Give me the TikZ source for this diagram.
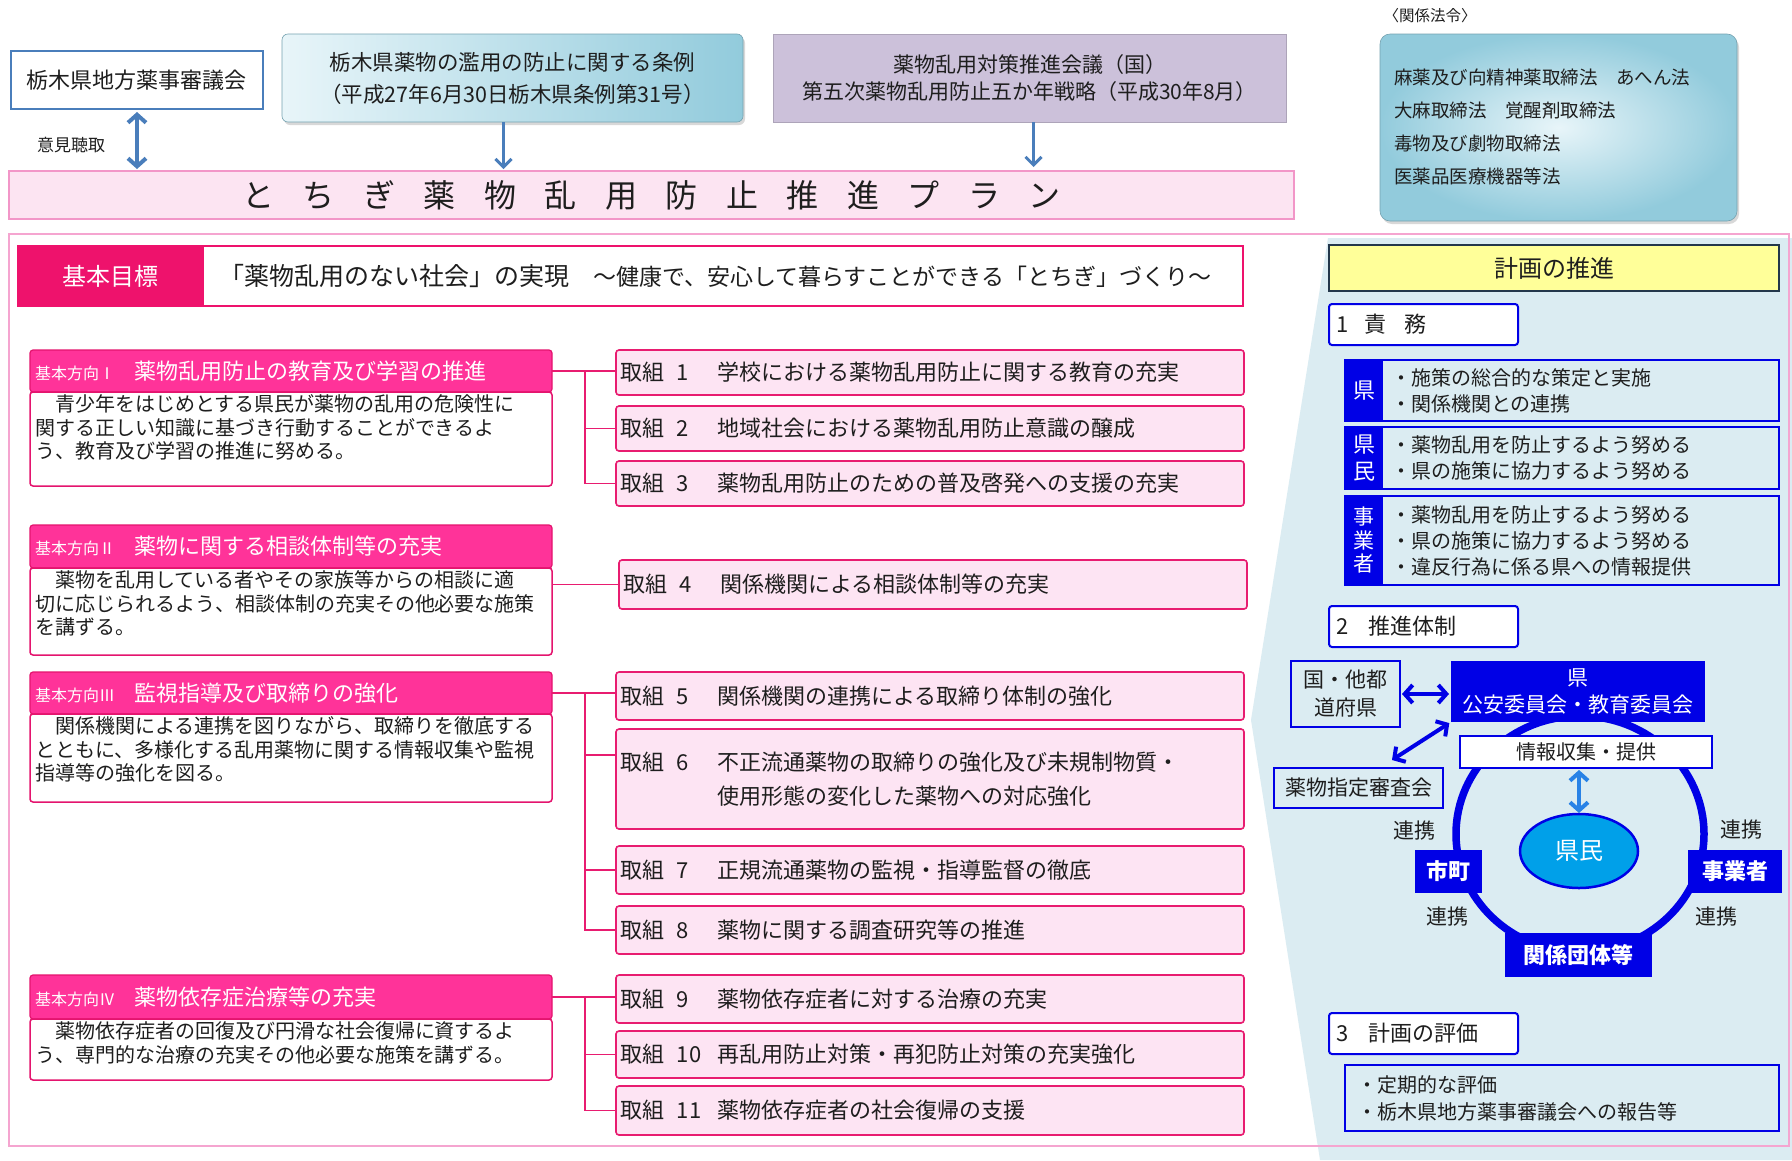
\documentclass[tikz,border=0pt]{standalone}
\usepackage{fontspec}
\setmainfont{Noto Sans CJK JP}
\usetikzlibrary{arrows.meta,shadows,shapes.geometric,calc}
\definecolor{arrblue}{RGB}{74,126,187}
\definecolor{ordL}{RGB}{232,245,249}
\definecolor{ordR}{RGB}{146,203,220}
\definecolor{purp}{RGB}{204,193,218}
\definecolor{planF}{RGB}{252,228,242}
\definecolor{planD}{RGB}{242,150,200}
\definecolor{frameC}{RGB}{245,165,208}
\definecolor{goalC}{RGB}{238,18,108}
\definecolor{hdrF}{RGB}{255,51,153}
\definecolor{hdrD}{RGB}{228,20,110}
\definecolor{tkF}{RGB}{253,228,243}
\definecolor{tkD}{RGB}{232,28,112}
\definecolor{bgB}{RGB}{219,236,242}
\definecolor{yel}{RGB}{255,255,153}
\definecolor{slate}{RGB}{35,55,75}
\definecolor{bl}{RGB}{0,0,230}
\definecolor{kenminC}{RGB}{0,160,233}
\definecolor{midarr}{RGB}{40,130,230}
\definecolor{txt}{RGB}{30,30,30}
\newcommand\fz[2]{\fontsize{#1}{#2}\selectfont}
\newcommand\kgap{\hspace{28.5pt}}
\newcommand\tkl[2]{\makebox[57pt][l]{取組}\makebox[40pt][l]{#1}#2}
\tikzset{
  smallbox/.style={draw=arrblue, line width=2.2pt, fill=white, anchor=north west},
  arrA/.style={draw=arrblue, line width=3pt, -{Straight Barb[length=8pt,width=16pt]}},
  dblA/.style={draw=arrblue, line width=4pt, {Straight Barb[length=8pt,width=18pt]}-{Straight Barb[length=8pt,width=18pt]}},
  blueA/.style={draw=bl, line width=4pt, {Straight Barb[length=8pt,width=18pt]}-{Straight Barb[length=8pt,width=18pt]}},
  midA/.style={draw=midarr, line width=4pt, {Straight Barb[length=8pt,width=18pt]}-{Straight Barb[length=8pt,width=18pt]}},
  hdr/.style={fill=hdrF, draw=hdrD, line width=1.2pt, rounded corners=3pt, anchor=north west, text width=512pt, inner xsep=5pt, align=left, text=white, font=\fz{22}{26}},
  desc/.style={fill=white, draw=hdrD, line width=1.5pt, rounded corners=3pt, anchor=north west, inner xsep=5pt, inner ysep=3pt},
  tk/.style={fill=tkF, draw=tkD, line width=1.6pt, rounded corners=3pt, anchor=north west, text width=620pt, inner xsep=4pt, align=left, font=\fz{22}{34}},
  conn/.style={draw=tkD, line width=1.6pt},
  numbox/.style={draw=bl, line width=2pt, fill=white, rounded corners=3pt, anchor=north west, minimum width=189pt, minimum height=41pt, text width=175pt, inner xsep=7pt, align=left, font=\fz{22}{26}},
  rowbox/.style={draw=bl, line width=2pt, fill=bgB, anchor=north west, minimum width=434pt},
  rowlab/.style={fill=bl, anchor=north west, minimum width=38pt, text=white, align=center},
  rowtxt/.style={anchor=west, align=left, font=\fz{20}{26}},
  bluebox/.style={fill=bl, anchor=north west, text=white},
  lbox/.style={draw=bl, line width=2pt, fill=bgB, anchor=north west},
  renk/.style={font=\fz{21}{24}}
}
\begin{document}
\begin{tikzpicture}[x=1pt,y=-1pt, every node/.style={inner sep=0pt, outer sep=0pt, text=txt}]
\useasboundingbox (0,0) rectangle (1792,1160);
\fill[white] (0,0) rectangle (1792,1160);
% background of right column
\fill[bgB] (1328,238) -- (1251,720) -- (1320,1160) -- (1792,1160) -- (1792,238) -- cycle;
\draw[frameC, line width=2.5pt] (9,234) rectangle (1789,1146);

% ---------- top row ----------
\node[smallbox, minimum width=252pt, minimum height=58pt, font=\fz{22}{26}] (shingi) at (11,51) {栃木県地方薬事審議会};
\node[font=\fz{17}{20}] (iken) at (71,145) {意見聴取};
\node[anchor=north west, minimum width=461pt, minimum height=88pt, rounded corners=6pt, left color=ordL, right color=ordR, draw=ordR!80!black, line width=0.6pt, align=center, font=\fz{21.5}{32}, drop shadow={shadow xshift=2pt, shadow yshift=-3pt, opacity=0.3}] (jorei) at (282,34) {栃木県薬物の濫用の防止に関する条例\\（平成27年6月30日栃木県条例第31号）};
\node[anchor=north west, minimum width=513pt, minimum height=88pt, fill=purp, draw=purp!85!black, line width=0.8pt, align=center, font=\fz{21}{27}] (senryaku) at (773,34) {薬物乱用対策推進会議（国）\\第五次薬物乱用防止五か年戦略（平成30年8月）};
\node[anchor=north west, minimum width=1285pt, minimum height=48pt, fill=planF, draw=planD, line width=2.5pt, font=\fz{32}{36}] (plan) at (9,171) {と\kgap ち\kgap ぎ\kgap 薬\kgap 物\kgap 乱\kgap 用\kgap 防\kgap 止\kgap 推\kgap 進\kgap プ\kgap ラ\kgap ン};
\draw[dblA, shorten <=3pt, shorten >=2pt] (shingi.south) -- (shingi.south |- plan.north);
\draw[arrA, shorten >=2pt] ([xshift=-9pt]jorei.south) -- ([xshift=-9pt]jorei.south |- plan.north);
\draw[arrA, shorten >=4pt] ([xshift=4pt]senryaku.south) -- ([xshift=4pt]senryaku.south |- plan.north);

\node[font=\fz{15.5}{18}] (kankei) at (1430,16) {〈関係法令〉};
\node[anchor=north west, minimum width=357pt, minimum height=187pt, rounded corners=10pt, inner color=ordL, outer color=ordR, draw=ordR!80!black, line width=0.6pt, drop shadow={shadow xshift=2pt, shadow yshift=-3pt, opacity=0.3}] (lawbg) at (1380,34) {};
\node[anchor=west, align=left, font=\fz{18.5}{33.3}] (laws) at (1394,127) {麻薬及び向精神薬取締法　あへん法\\大麻取締法　覚醒剤取締法\\毒物及び劇物取締法\\医薬品医療機器等法};

% ---------- goal row ----------
\node[draw=goalC, line width=2.5pt, fill=white, minimum width=1040pt, minimum height=60pt, anchor=north west, text width=1008pt, inner xsep=16pt, align=left, font=\fz{25}{30}] (goal) at (203,246) {「薬物乱用のない社会」の実現\hspace{24pt}{\fz{23}{28}～健康で、安心して暮らすことができる「とちぎ」づくり～}};
\node[fill=goalC, draw=goalC, line width=2.5pt, minimum width=185pt, minimum height=60pt, anchor=north west, text=white, font=\fz{24}{28}] (goallab) at (18,246) {基本目標};
\node[draw=slate, line width=2.5pt, fill=yel, minimum width=450pt, minimum height=46pt, anchor=north west, font=\fz{24}{28}] (keikaku) at (1329,245) {計画の推進};

% ---------- basic directions ----------
\node[hdr, minimum height=42pt] (h1) at (30,350) {{\fz{16}{20}基本方向Ⅰ}\hspace{20pt}薬物乱用防止の教育及び学習の推進};
\node[desc] (d1) at (30,392) {\parbox[t][88pt][t]{512pt}{\fz{20}{23.5}\raggedright　青少年をはじめとする県民が薬物の乱用の危険性に\\関する正しい知識に基づき行動することができるよ\\う、教育及び学習の推進に努める。}};

\node[hdr, minimum height=43pt] (h2) at (30,525) {{\fz{16}{20}基本方向Ⅱ}\hspace{20pt}薬物に関する相談体制等の充実};
\node[desc] (d2) at (30,568) {\parbox[t][81pt][t]{512pt}{\fz{20}{23.5}\raggedright　薬物を乱用している者やその家族等からの相談に適\\切に応じられるよう、相談体制の充実その他必要な施策\\を講ずる。}};

\node[hdr, minimum height=42pt] (h3) at (30,672) {{\fz{16}{20}基本方向Ⅲ}\hspace{20pt}監視指導及び取締りの強化};
\node[desc] (d3) at (30,714) {\parbox[t][82pt][t]{512pt}{\fz{20}{23.5}\raggedright　関係機関による連携を図りながら、取締りを徹底する\\とともに、多様化する乱用薬物に関する情報収集や監視\\指導等の強化を図る。}};

\node[hdr, minimum height=44pt] (h4) at (30,975) {{\fz{16}{20}基本方向Ⅳ}\hspace{20pt}薬物依存症治療等の充実};
\node[desc] (d4) at (30,1019) {\parbox[t][55pt][t]{512pt}{\fz{20}{23.5}\raggedright　薬物依存症者の回復及び円滑な社会復帰に資するよ\\う、専門的な治療の充実その他必要な施策を講ずる。}};

% ---------- measures ----------
\node[tk, minimum height=45pt] (t1) at (616,350) {\tkl{1}{学校における薬物乱用防止に関する教育の充実}};
\node[tk, minimum height=45pt] (t2) at (616,406) {\tkl{2}{地域社会における薬物乱用防止意識の醸成}};
\node[tk, minimum height=45pt] (t3) at (616,461) {\tkl{3}{薬物乱用防止のための普及啓発への支援の充実}};
\node[tk, minimum height=49pt] (t4) at (619,560) {\tkl{4}{関係機関による相談体制等の充実}};
\node[tk, minimum height=48pt] (t5) at (616,672) {\tkl{5}{関係機関の連携による取締り体制の強化}};
\node[tk, minimum height=100pt] (t6) at (616,729) {\tkl{6}{不正流通薬物の取締りの強化及び未規制物質・}\\\hspace*{97pt}使用形態の変化した薬物への対応強化};
\node[tk, minimum height=48pt] (t7) at (616,846) {\tkl{7}{正規流通薬物の監視・指導監督の徹底}};
\node[tk, minimum height=48pt] (t8) at (616,906) {\tkl{8}{薬物に関する調査研究等の推進}};
\node[tk, minimum height=48pt] (t9) at (616,975) {\tkl{9}{薬物依存症者に対する治療の充実}};
\node[tk, minimum height=47pt] (t10) at (616,1031) {\tkl{10}{再乱用防止対策・再犯防止対策の充実強化}};
\node[tk, minimum height=49pt] (t11) at (616,1086) {\tkl{11}{薬物依存症者の社会復帰の支援}};

% connectors
\coordinate (tx) at (585,0);
\draw[conn] (h1.east) -- (h1.east -| t1.west);
\draw[conn] (h1.east -| tx) |- (t3.west);
\draw[conn] (t2.west -| tx) -- (t2.west);
\draw[conn] (t4.west -| d2.east) -- (t4.west);
\draw[conn] (h3.east) -- (h3.east -| t5.west);
\draw[conn] (h3.east -| tx) |- (t8.west);
\coordinate (t6c) at ([yshift=24pt]t6.west);
\draw[conn] (t6c -| tx) -- (t6c);
\draw[conn] (t7.west -| tx) -- (t7.west);
\draw[conn] (h4.east) -- (h4.east -| t9.west);
\draw[conn] (h4.east -| tx) |- (t11.west);
\draw[conn] (t10.west -| tx) -- (t10.west);

% ---------- right column ----------
\node[numbox] (sekimu) at (1329,304) {1\hspace{16pt}責\hspace{18pt}務};
\node[rowbox, minimum height=61pt] (r1) at (1345,360) {};
\node[rowlab, minimum height=61pt, font=\fz{22}{27}] (r1l) at (1345,360) {県};
\node[rowtxt] (r1t) at ([xshift=8pt]r1l.east) {・施策の総合的な策定と実施\\・関係機関との連携};
\node[rowbox, minimum height=62pt] (r2) at (1345,427) {};
\node[rowlab, minimum height=62pt, font=\fz{22}{27}] (r2l) at (1345,427) {県\\民};
\node[rowtxt] (r2t) at ([xshift=8pt]r2l.east) {・薬物乱用を防止するよう努める\\・県の施策に協力するよう努める};
\node[rowbox, minimum height=89pt] (r3) at (1345,496) {};
\node[rowlab, minimum height=89pt, font=\fz{21}{23.5}] (r3l) at (1345,496) {事\\業\\者};
\node[rowtxt] (r3t) at ([xshift=8pt]r3l.east) {・薬物乱用を防止するよう努める\\・県の施策に協力するよう努める\\・違反行為に係る県への情報提供};

\node[numbox] (suishin) at (1329,606) {2\hspace{20pt}推進体制};
\draw[bl, line width=7.5pt] (1580,834) ellipse [x radius=124pt, y radius=118pt];
\node[lbox, minimum width=109pt, minimum height=66pt, align=center, font=\fz{21}{28}] (kuni) at (1291,661) {国・他都\\道府県};
\node[bluebox, minimum width=254pt, minimum height=61pt, align=center, font=\fz{21}{27}] (kenbox) at (1451,661) {県\\公安委員会・教育委員会};
\node[lbox, minimum width=169pt, minimum height=40pt, font=\fz{21}{25}] (shinsa) at (1274,768) {薬物指定審査会};
\node[draw=bl, line width=2pt, fill=white, anchor=north west, minimum width=252pt, minimum height=32pt, font=\fz{20}{24}] (joho) at (1460,736) {情報収集・提供};
\node[ellipse, fill=kenminC, draw=bl, line width=2.5pt, minimum width=118pt, minimum height=74pt, text=white, font=\fz{24}{28}] (kenmin) at (1579,851) {県民};
\node[bluebox, minimum width=67pt, minimum height=43pt, font=\bfseries\fz{22}{26}] (shicho) at (1415,850) {市町};
\node[bluebox, minimum width=94pt, minimum height=43pt, font=\bfseries\fz{22}{26}] (jigyo) at (1688,850) {事業者};
\node[bluebox, minimum width=147pt, minimum height=44pt, font=\bfseries\fz{22}{26}] (dantai) at (1505,933) {関係団体等};
\node[renk] (rk1) at (1414,831) {連携};
\node[renk] (rk2) at (1741,830) {連携};
\node[renk] (rk3) at (1447,917) {連携};
\node[renk] (rk4) at (1716,917) {連携};
\draw[blueA, shorten <=2pt, shorten >=2pt] (kuni.east) -- (kuni.east -| kenbox.west);
\coordinate (shc) at ([xshift=-51pt, yshift=8pt]shinsa.north east);
\draw[blueA, shorten >=2pt] (shc) -- (kenbox.south west);
\draw[midA, shorten <=2pt, shorten >=1pt] (kenmin.north |- joho.south) -- (kenmin.north);

\node[numbox] (hyokah) at (1329,1013) {3\hspace{20pt}計画の評価};
\node[draw=bl, line width=2.5pt, fill=bgB, anchor=north west, minimum height=66pt, text width=410pt, inner xsep=12pt, align=left, font=\fz{20}{27}] (hyoka) at (1345,1065) {・定期的な評価\\・栃木県地方薬事審議会への報告等};
\end{tikzpicture}
\end{document}
